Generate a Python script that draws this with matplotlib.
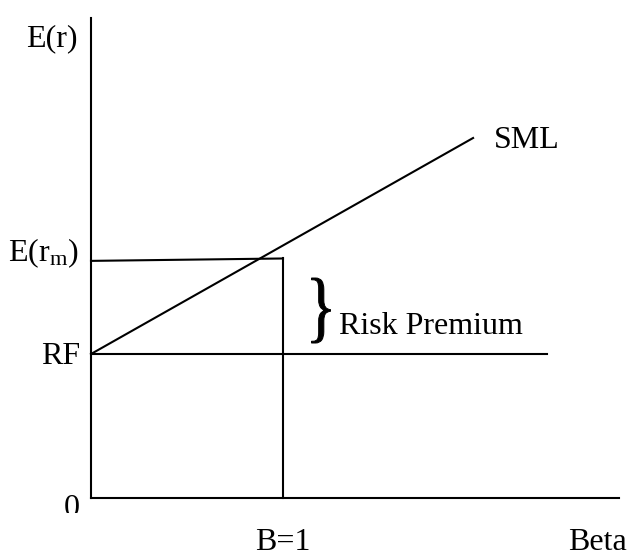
import numpy as np
import matplotlib
matplotlib.use("Agg")
import matplotlib.pyplot as plt
from matplotlib.textpath import TextPath
from matplotlib.patches import PathPatch
from matplotlib.font_manager import FontProperties
from matplotlib.transforms import Affine2D, Bbox, TransformedBbox

plt.rcParams['font.family'] = ['Liberation Serif', 'DejaVu Serif']
plt.rcParams['mathtext.fontset'] = 'custom'
plt.rcParams['mathtext.rm'] = 'Liberation Serif'

# security market line sketch (arbitrary units)
rf = 3.0
sml_beta = [0.0, 1.99]
sml_ret = [3.0, 7.5]
rf_beta = [0.0, 2.375]
erm_beta = [0.0, 1.0]
erm_ret = [4.94, 4.99]
market_beta = 1.0
x_max = 2.75
y_max = 10.0

fs = 23
lw = 1.5

fig = plt.figure(figsize=(6.29, 5.57), dpi=100)
ax = fig.add_axes([91 / 629, 59 / 557, 528 / 629, 480 / 557])
ax.set_xlim(0, x_max)
ax.set_ylim(0, y_max)
ax.set_xticks([])
ax.set_yticks([])
for s in ['top', 'right']:
    ax.spines[s].set_visible(False)
for s in ['left', 'bottom']:
    ax.spines[s].set_linewidth(lw)
    ax.spines[s].set_color('black')

ax.plot(sml_beta, sml_ret, color='black', lw=lw, clip_on=False)
ax.plot(rf_beta, [rf, rf], color='black', lw=lw, clip_on=False)
ax.plot(erm_beta, erm_ret, color='black', lw=lw, clip_on=False)
ax.plot([market_beta, market_beta], [0, erm_ret[1]], color='black', lw=lw, clip_on=False)

# labels
ax.text(-0.068, 9.42, 'E(r)', fontsize=fs, ha='right', va='baseline', clip_on=False)
ax.text(-0.063, erm_ret[0], r'$\mathrm{E(r_m)}$', fontsize=fs, ha='right', va='baseline', clip_on=False)
ax.text(-0.055, 2.79, 'RF', fontsize=fs, ha='right', va='baseline', clip_on=False)
zero = ax.text(-0.057, -0.37, '0', fontsize=fs, ha='right', va='baseline')
zero.set_clip_on(True)
zero.set_clip_box(TransformedBbox(Bbox([[-0.5, -0.31], [0.0, 1.0]]), ax.transData))
ax.text(2.10, 7.29, 'SML', fontsize=fs, ha='left', va='baseline', clip_on=False)
ax.text(1.29, 3.42, 'Risk Premium', fontsize=fs, ha='left', va='baseline', clip_on=False)
ax.text(market_beta, -1.08, 'B=1', fontsize=fs, ha='center', va='baseline', clip_on=False)
ax.text(2.638, -1.08, 'Beta', fontsize=fs, ha='center', va='baseline', clip_on=False)

# curly brace, stretched to span the premium
tp = TextPath((0, 0), '}', size=1, prop=FontProperties(family='Liberation Serif'))
bb = tp.get_extents()
bw, bh = 19 / 192, 65 / 48
cx, cy = 1.198, 3.906
tr = (Affine2D().translate(-(bb.x0 + bb.x1) / 2, -(bb.y0 + bb.y1) / 2)
      .scale(bw / bb.width, bh / bb.height).translate(cx, cy))
ax.add_patch(PathPatch(tr.transform_path(tp), facecolor='black', edgecolor='black',
                       lw=0.7, clip_on=False))

fig.savefig('out.png', dpi=100)
